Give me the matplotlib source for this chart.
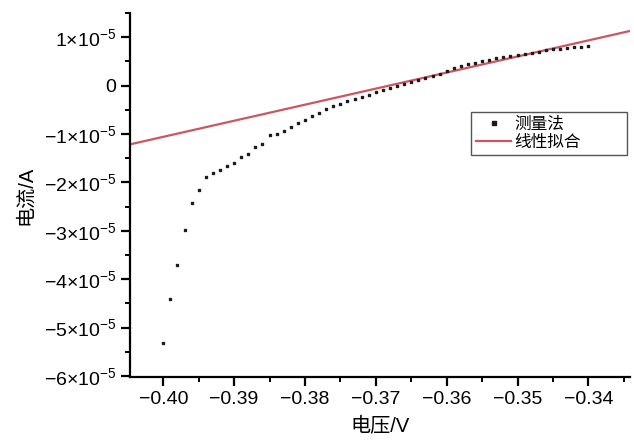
import numpy as np
import matplotlib
matplotlib.use('Agg')
import matplotlib.pyplot as plt
from matplotlib.ticker import MultipleLocator, FuncFormatter

plt.rcParams['font.family'] = ['Liberation Sans', 'Noto Sans CJK SC', 'DejaVu Sans']
plt.rcParams['mathtext.fontset'] = 'custom'
plt.rcParams['mathtext.rm'] = 'Liberation Sans'
plt.rcParams['mathtext.default'] = 'rm'
plt.rcParams['axes.unicode_minus'] = True

# measured points (V, A x1e-5)
voltage = np.round(np.arange(-0.400, -0.3395, 0.001), 3)
current_e5 = [
    -5.31, -4.41, -3.71, -2.99, -2.43, -2.16, -1.89, -1.81, -1.74, -1.67,
    -1.60, -1.48, -1.42, -1.27, -1.20, -1.03, -1.00, -0.94, -0.85, -0.78,
    -0.71, -0.62, -0.56, -0.49, -0.43, -0.38, -0.32, -0.28, -0.24, -0.19,
    -0.13, -0.09, -0.05, -0.01, 0.03, 0.07, 0.11, 0.15, 0.19, 0.24,
    0.30, 0.36, 0.40, 0.44, 0.47, 0.50, 0.53, 0.56, 0.59, 0.62,
    0.64, 0.66, 0.68, 0.70, 0.73, 0.75, 0.76, 0.77, 0.79, 0.80,
    0.82,
]
current = np.array(current_e5) * 1e-5

# linear fit  I = slope * V + intercept
fit_slope = 3.32e-4
fit_intercept = 1.222e-4
fit_range = [-0.4047, -0.3341]

x_ticks = [-0.40, -0.39, -0.38, -0.37, -0.36, -0.35, -0.34]
y_ticks = [1e-5, 0, -1e-5, -2e-5, -3e-5, -4e-5, -5e-5, -6e-5]

fig = plt.figure(figsize=(6.34, 4.45), dpi=100)
ax = fig.add_axes([0.205, 0.153, 0.789, 0.818])

fit_v = np.array(fit_range)
ax.plot(fit_v, fit_slope * fit_v + fit_intercept, color='#cc5562', lw=1.6,
        label='线性拟合', zorder=2)
ax.plot(voltage, current, ls='none', marker='s', ms=2.0, color='#1a1a1a',
        label='测量法', zorder=3)

ax.set_xlim(fit_range)
ax.set_ylim(-6.02e-5, 1.5e-5)

ax.set_xticks(x_ticks)
ax.xaxis.set_minor_locator(MultipleLocator(0.005))
ax.set_yticks(y_ticks)
ax.yaxis.set_minor_locator(MultipleLocator(0.5e-5))

ax.xaxis.set_major_formatter(FuncFormatter(lambda v, p: f'{v:.2f}'.replace('-', '\u2212')))


def yfmt(v, p):
    n = int(round(v / 1e-5))
    if n == 0:
        return '0'
    sign = '\u2212' if n < 0 else ''
    return f'{sign}{abs(n)}\u00d710$^{{-5}}$'


ax.yaxis.set_major_formatter(FuncFormatter(yfmt))

for s in ['top', 'right']:
    ax.spines[s].set_visible(False)
for s in ['left', 'bottom']:
    ax.spines[s].set_linewidth(1.6)

ax.tick_params(which='major', direction='out', length=6.5, width=1.6, labelsize=14)
ax.tick_params(which='minor', direction='out', length=3.5, width=1.4)

ax.set_xlabel('电压/V', fontsize=14.5, labelpad=7)
ax.set_ylabel('电流/A', fontsize=14.5, labelpad=6)

handles, labels = ax.get_legend_handles_labels()
leg = ax.legend(handles[::-1], labels[::-1], loc='upper left', mode='expand',
                bbox_to_anchor=(0.682, 0.728, 0.312, 0.0), fontsize=12,
                frameon=True, fancybox=False, edgecolor='#555555', framealpha=1,
                handlelength=2.1, borderpad=0.3, labelspacing=0.15,
                handletextpad=0.2, borderaxespad=0, markerscale=1.4)
leg.get_frame().set_linewidth(1.0)

fig.savefig('out.png', dpi=100)
